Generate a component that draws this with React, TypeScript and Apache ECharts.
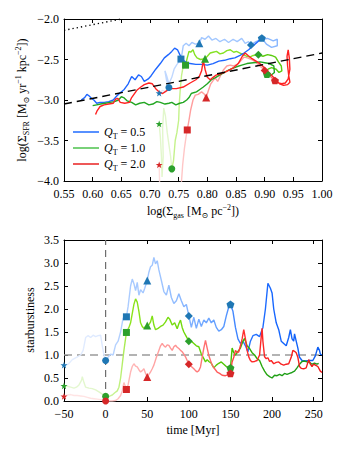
import React, { useEffect, useRef } from 'react';
import * as echarts from 'echarts';

// ---------- Top panel: paths in (log Σgas, log ΣSFR) ----------
const blueTopPale = [[0.716,-2.915],[0.722,-2.88],[0.728,-2.9],[0.733,-2.845]];
const blueTopEarly = [[0.733,-2.845],[0.729,-2.76],[0.726,-2.64],[0.729,-2.7],[0.733,-2.8],[0.738,-2.72],[0.742,-2.62],[0.747,-2.56],[0.754,-2.495]];
const blueTopMid = [[0.754,-2.495],[0.756,-2.42],[0.758,-2.33],[0.763,-2.3],[0.768,-2.33],[0.773,-2.29],[0.779,-2.31],[0.786,-2.3],[0.79,-2.23],[0.796,-2.25],[0.802,-2.21],[0.808,-2.26],[0.815,-2.24],[0.822,-2.28],[0.83,-2.25],[0.837,-2.29],[0.845,-2.25],[0.852,-2.28],[0.86,-2.24],[0.866,-2.3],[0.872,-2.28],[0.876,-2.32]];
const blueTopLateMid = [[0.876,-2.32],[0.885,-2.28],[0.895,-2.25],[0.905,-2.24],[0.915,-2.27],[0.922,-2.25],[0.922,-2.33],[0.912,-2.35],[0.903,-2.31],[0.895,-2.235]];
const blueTopLate = [[0.895,-2.235],[0.888,-2.28],[0.88,-2.33],[0.872,-2.38],[0.864,-2.42],[0.857,-2.45],[0.848,-2.48],[0.84,-2.49],[0.83,-2.51],[0.82,-2.52],[0.81,-2.55],[0.8,-2.57],[0.79,-2.56],[0.78,-2.56],[0.77,-2.55],[0.762,-2.53],[0.756,-2.5],[0.752,-2.44],[0.748,-2.38],[0.743,-2.36],[0.738,-2.4],[0.732,-2.44],[0.725,-2.48],[0.718,-2.55],[0.71,-2.62],[0.702,-2.7],[0.697,-2.74],[0.69,-2.77],[0.685,-2.71],[0.68,-2.69],[0.674,-2.75],[0.668,-2.71],[0.662,-2.8],[0.655,-2.87],[0.648,-2.91],[0.642,-2.95],[0.636,-3.0],[0.628,-3.02],[0.62,-3.03],[0.613,-3.03],[0.607,-3.04],[0.602,-3.0],[0.598,-2.98],[0.594,-2.95],[0.59,-2.93],[0.586,-2.97],[0.58,-3.0]];

const greenTopPale = [[0.716,-3.295],[0.718,-3.45],[0.72,-3.7],[0.721,-3.95],[0.723,-3.7],[0.722,-3.35],[0.724,-3.1],[0.727,-3.2],[0.73,-3.4],[0.733,-3.55],[0.736,-3.7],[0.738,-3.85]];
const greenTopEarly = [[0.738,-3.85],[0.741,-3.75],[0.744,-3.5],[0.747,-3.4],[0.75,-3.25],[0.751,-3.05],[0.753,-2.85],[0.755,-2.7],[0.757,-2.62],[0.762,-2.57]];
const greenTopMid = [[0.762,-2.57],[0.765,-2.48],[0.768,-2.4],[0.771,-2.41],[0.775,-2.38],[0.778,-2.44],[0.782,-2.48],[0.788,-2.5],[0.796,-2.49],[0.8,-2.46],[0.805,-2.42],[0.81,-2.41],[0.816,-2.4],[0.822,-2.43],[0.828,-2.42],[0.834,-2.39],[0.84,-2.38],[0.846,-2.41],[0.851,-2.4],[0.857,-2.42],[0.863,-2.44],[0.869,-2.46],[0.874,-2.47],[0.88,-2.45],[0.889,-2.44]];
const greenTopLateMid = [[0.889,-2.44],[0.897,-2.46],[0.905,-2.44],[0.912,-2.45],[0.919,-2.47],[0.924,-2.53],[0.929,-2.58],[0.93,-2.64],[0.925,-2.66],[0.92,-2.62],[0.912,-2.6],[0.906,-2.62],[0.9,-2.65],[0.904,-2.68]];
const greenTopLate = [[0.904,-2.68],[0.91,-2.7],[0.917,-2.66],[0.916,-2.58],[0.908,-2.55],[0.9,-2.54],[0.892,-2.53],[0.88,-2.54],[0.869,-2.55],[0.86,-2.57],[0.851,-2.59],[0.844,-2.61],[0.837,-2.63],[0.83,-2.66],[0.822,-2.69],[0.815,-2.72],[0.807,-2.75],[0.8,-2.8],[0.793,-2.84],[0.787,-2.87],[0.781,-2.9],[0.776,-2.91],[0.772,-2.92],[0.768,-2.97],[0.764,-3.0],[0.758,-3.03],[0.752,-3.04],[0.745,-3.06],[0.738,-3.03],[0.733,-3.04],[0.726,-3.05],[0.718,-3.03],[0.712,-3.02],[0.705,-3.05],[0.698,-3.06],[0.69,-3.03],[0.682,-3.04],[0.675,-3.06],[0.668,-3.03],[0.66,-3.01],[0.654,-2.97],[0.65,-2.96],[0.645,-3.0],[0.638,-3.02],[0.63,-3.03],[0.622,-3.04],[0.614,-3.05],[0.607,-3.06],[0.6,-3.07]];

const redTopPale = [[0.716,-3.8],[0.717,-4.1],[0.719,-4.5],[0.725,-4.8],[0.745,-4.9]];
const redTopEarly = [[0.745,-4.9],[0.75,-4.6],[0.753,-4.25],[0.755,-4.0],[0.757,-3.8],[0.76,-3.6],[0.763,-3.45],[0.765,-3.37]];
const redTopMid = [[0.765,-3.37],[0.768,-3.25],[0.771,-3.12],[0.775,-3.0],[0.779,-2.94],[0.784,-2.93],[0.79,-2.9],[0.795,-2.93],[0.798,-2.97],[0.802,-2.88],[0.806,-2.8],[0.81,-2.76],[0.814,-2.73],[0.818,-2.77],[0.823,-2.7],[0.828,-2.63],[0.834,-2.58],[0.84,-2.57],[0.846,-2.58],[0.852,-2.56],[0.858,-2.52],[0.864,-2.47],[0.87,-2.48],[0.877,-2.5],[0.884,-2.53],[0.89,-2.57],[0.895,-2.6],[0.9,-2.635]];
const redTopLateMid = [[0.9,-2.635],[0.904,-2.67],[0.909,-2.7],[0.913,-2.73],[0.918,-2.76]];
const redTopLate = [[0.918,-2.76],[0.924,-2.79],[0.93,-2.8],[0.936,-2.79],[0.941,-2.74],[0.944,-2.62],[0.943,-2.48],[0.941,-2.38],[0.939,-2.46],[0.94,-2.58],[0.942,-2.7],[0.944,-2.78],[0.94,-2.81],[0.933,-2.82],[0.926,-2.8],[0.918,-2.74],[0.91,-2.68],[0.902,-2.62],[0.895,-2.57],[0.887,-2.53],[0.878,-2.49],[0.871,-2.45],[0.866,-2.42],[0.861,-2.46],[0.854,-2.55],[0.846,-2.6],[0.838,-2.63],[0.83,-2.66],[0.822,-2.68],[0.816,-2.69],[0.81,-2.72],[0.805,-2.75],[0.8,-2.72],[0.796,-2.62],[0.793,-2.51],[0.79,-2.64],[0.786,-2.71],[0.78,-2.75],[0.77,-2.79],[0.758,-2.84],[0.746,-2.86],[0.735,-2.86],[0.728,-2.89],[0.722,-2.92],[0.716,-2.9],[0.71,-2.86],[0.704,-2.8],[0.698,-2.79],[0.69,-2.81],[0.684,-2.84],[0.677,-2.88],[0.672,-2.93],[0.668,-2.97],[0.664,-3.03],[0.656,-3.04],[0.648,-3.03],[0.644,-2.98],[0.64,-2.99],[0.636,-3.04],[0.628,-3.05],[0.62,-3.06],[0.613,-3.08],[0.608,-3.13],[0.605,-3.18]];

// markers: star(-50), circle(0), square(25), triangle(50), diamond(100), pentagon(150) Myr
const blueTopMarkers = [[0.716,-2.915],[0.733,-2.845],[0.754,-2.495],[0.786,-2.3],[0.876,-2.32],[0.895,-2.235]];
const greenTopMarkers = [[0.716,-3.295],[0.738,-3.85],[0.762,-2.57],[0.796,-2.49],[0.889,-2.44],[0.904,-2.68]];
const redTopMarkers = [[0.716,-3.8],[0.745,-4.9],[0.765,-3.37],[0.798,-2.97],[0.9,-2.635],[0.918,-2.76]];

const ksDashed = [[0.55,-3.05],[1.0,-2.42]];
const ksDotted = [[0.55,-2.14],[0.65,-2.0]];

// ---------- Bottom panel: starburstiness vs time ----------
const blueSB = [[-50,0.78],[-45,0.8],[-40,0.9],[-35,0.95],[-30,1.0],[-27,1.1],[-24,1.38],[-21,1.42],[-18,1.38],[-15,1.43],[-12,1.4],[-9,1.42],[-6,1.43],[-4,1.2],[-2,1.0],[0,0.88],[3,0.95],[6,1.02],[9,1.0],[12,1.22],[15,1.3],[18,1.5],[21,1.8],[25,1.83],[27,2.05],[30,2.5],[32,2.65],[34,2.55],[36,2.4],[38,2.58],[40,2.3],[42,2.42],[45,2.35],[47,2.45],[50,2.62],[52,2.8],[54,2.92],[56,2.95],[58,3.12],[60,2.98],[62,3.05],[64,2.85],[67,2.62],[70,2.38],[73,2.3],[76,2.52],[79,2.25],[82,2.12],[85,2.18],[88,2.33],[91,2.18],[94,2.05],[97,2.1],[100,1.85],[103,1.6],[106,1.82],[109,1.58],[112,1.78],[115,1.62],[118,1.76],[121,1.7],[124,1.8],[127,1.7],[130,1.76],[133,1.6],[136,1.52],[139,1.55],[142,1.62],[145,1.85],[148,2.05],[150,2.1],[153,1.95],[156,1.6],[159,1.35],[162,1.25],[165,1.3],[168,1.2],[171,1.07],[174,1.3],[177,1.42],[181,1.45],[185,1.4],[189,1.6],[192,2.0],[195,2.56],[198,2.45],[200,2.35],[202,2.0],[205,1.7],[208,1.55],[211,1.3],[214,1.25],[217,1.2],[220,1.38],[222,1.55],[224,1.35],[226,1.3],[227,1.46],[229,1.3],[231,1.15],[233,0.95],[236,0.88],[240,0.87],[245,0.88],[249,0.88],[252,0.98],[255,1.17],[257,1.1],[258,1.02],[260,1.0]];
const greenSB = [[-50,0.33],[-46,0.32],[-42,0.3],[-38,0.28],[-35,0.3],[-32,0.35],[-29,0.45],[-28,0.53],[-26,0.4],[-24,0.3],[-20,0.28],[-16,0.27],[-12,0.24],[-8,0.2],[-4,0.15],[0,0.1],[4,0.1],[8,0.13],[11,0.18],[14,0.22],[16,0.3],[18,0.5],[20,0.8],[22,1.1],[25,1.49],[28,1.6],[30,1.7],[32,1.9],[34,2.1],[36,2.22],[38,2.15],[40,1.95],[42,1.7],[44,1.62],[46,1.58],[48,1.62],[50,1.64],[52,1.66],[54,1.72],[56,1.85],[58,1.65],[60,1.55],[63,1.58],[66,1.62],[69,1.65],[72,1.72],[75,1.82],[77,1.78],[80,1.65],[83,1.7],[86,1.57],[88,1.68],[90,1.76],[92,1.6],[94,1.5],[97,1.4],[100,1.3],[103,1.3],[106,1.25],[109,1.2],[112,1.18],[115,1.02],[118,0.92],[120,0.85],[122,0.9],[124,0.86],[127,0.82],[130,0.72],[133,0.78],[136,0.82],[139,0.85],[142,0.8],[145,0.75],[148,0.72],[150,0.72],[152,1.15],[154,1.05],[156,1.0],[159,1.08],[162,1.15],[165,1.3],[167,1.36],[170,1.2],[173,1.14],[176,1.05],[179,1.0],[182,0.92],[185,0.88],[188,0.75],[191,0.65],[194,0.57],[197,0.53],[200,0.5],[203,0.56],[206,0.55],[209,0.58],[212,0.55],[215,0.6],[218,0.58],[221,0.6],[224,0.62],[227,0.65],[230,0.72],[233,0.8],[236,0.86],[239,0.87],[242,0.85],[245,0.84],[248,0.8],[251,0.82],[254,0.8],[256,0.82]];
const redSB = [[-50,0.1],[-46,0.13],[-42,0.14],[-38,0.12],[-34,0.12],[-30,0.11],[-26,0.1],[-22,0.08],[-18,0.06],[-14,0.05],[-10,0.04],[-6,0.03],[-3,0.02],[0,0.0],[4,0.0],[8,0.0],[12,0.01],[15,0.05],[18,0.12],[20,0.22],[22,0.4],[24,0.3],[25,0.25],[27,0.35],[30,0.63],[32,0.75],[34,0.81],[36,0.76],[38,0.74],[40,0.68],[42,0.63],[44,0.66],[46,0.7],[48,0.6],[50,0.52],[52,0.58],[54,0.63],[56,0.7],[58,0.78],[61,0.95],[64,1.1],[66,1.2],[68,1.25],[70,1.2],[72,1.17],[74,1.22],[76,1.21],[78,1.15],[80,1.1],[82,1.18],[84,1.21],[86,1.17],[88,1.14],[90,1.1],[92,1.07],[94,1.02],[96,0.96],[98,0.88],[100,0.8],[103,0.75],[106,0.7],[108,0.66],[110,0.63],[112,0.66],[114,0.74],[116,0.95],[118,1.15],[120,1.32],[122,1.15],[124,0.99],[126,0.88],[128,0.78],[131,0.7],[134,0.63],[137,0.6],[140,0.56],[144,0.55],[148,0.58],[150,0.6],[152,0.85],[154,0.95],[156,1.1],[158,1.05],[160,1.07],[162,1.2],[164,1.35],[166,1.55],[168,1.35],[170,1.1],[172,0.96],[174,0.88],[176,0.85],[179,0.86],[182,0.88],[185,1.0],[187,1.4],[188,1.58],[189,1.3],[191,0.96],[193,0.92],[195,0.94],[197,0.86],[199,0.88],[202,0.81],[205,0.84],[208,0.85],[211,0.8],[214,0.78],[217,0.8],[220,0.81],[223,0.95],[225,1.1],[227,1.08],[229,1.05],[231,0.95],[233,0.75],[235,0.71],[238,0.7],[241,0.72],[244,0.9],[246,0.8],[248,0.75],[250,0.8],[252,0.78],[255,0.75],[258,0.65],[260,0.62]];

const markerTimes = [-50, 0, 25, 50, 100, 150];
const sbRef = [[-50, 1], [260, 1]];
const tZero = [[0, 0], [0, 3.5]];

const labelsQ = ['0.5', '1.0', '2.0'];

// ---------- styling ----------
const F = "'Liberation Serif', 'DejaVu Serif', serif";
const markerColors = ['#1f77b4', '#2ca02c', '#d62728'];
const legendColors = ['#1f6bff', '#4cc24c', '#e82020'];
const topSegColors = [
  ['#dde9ff', '#c0d8ff', '#a2c7ff', '#8ab8ff', '#1f66ff'],
  ['#e2f7cc', '#c4f28a', '#86e224', '#5ccc10', '#22a622'],
  ['#ffdede', '#ffc6c6', '#ff9e9e', '#ff6a6a', '#ff2222'],
];
const gradStops = [
  [[-50, '#e4eeff'], [-1, '#dce8ff'], [0, '#bcd6ff'], [30, '#aacbff'], [70, '#9cc3ff'], [110, '#78acff'], [140, '#5e9cff'], [165, '#2f79ff'], [200, '#1666ff'], [260, '#0c5ef2']],
  [[-50, '#e6f8d4'], [-1, '#e0f6c8'], [0, '#d2f5b0'], [18, '#bdf078'], [30, '#8ce41c'], [100, '#6ed80a'], [150, '#48c204'], [178, '#2eae06'], [200, '#1f9f14'], [256, '#1b9b1b']],
  [[-50, '#ffe6e6'], [-1, '#ffe0e0'], [0, '#ffcaca'], [50, '#ffaaaa'], [100, '#ff8585'], [130, '#ff6464'], [150, '#ff4a4a'], [170, '#ff2a2a'], [260, '#f01818']],
];

const starPath = 'path://M0,-10 L2.35,-3.24 L9.51,-3.09 L3.8,1.24 L5.88,8.09 L0,4 L-5.88,8.09 L-3.8,1.24 L-9.51,-3.09 L-2.35,-3.24 Z';
const pentPath = 'path://M0,-10 L9.51,-3.09 L5.88,8.09 L-5.88,8.09 L-9.51,-3.09 Z';
const symbols = [starPath, 'circle', 'rect', 'triangle', 'diamond', pentPath];
const symbolSizes = [7, 7, 7, 8, 8, 8];

function lineSeries(data: number[][], color: any, xi: number, yi: number, width = 1.4, z = 2, type: any = 'solid') {
  return {
    type: 'line', data, xAxisIndex: xi, yAxisIndex: yi, showSymbol: false, symbol: 'none',
    silent: true, z, clip: true, animation: false,
    lineStyle: { color, width, type, cap: 'butt' },
  };
}

function markerSeries(points: number[][], color: string, xi: number, yi: number, clip: boolean) {
  return {
    type: 'scatter', xAxisIndex: xi, yAxisIndex: yi, silent: true, z: 5, clip, animation: false,
    symbolKeepAspect: true,
    itemStyle: { color, opacity: 1 },
    data: points.map((p, i) => ({ value: p, symbol: symbols[i], symbolSize: symbolSizes[i] })),
  };
}

function gradient(stops: any[], data: number[][]) {
  const t0 = data[0][0];
  const t1 = data[data.length - 1][0];
  return new echarts.graphic.LinearGradient(0, 0, 1, 0,
    stops.map(([t, c]) => ({ offset: Math.max(0, Math.min(1, (t - t0) / (t1 - t0))), color: c })));
}

const minus = (s: string) => s.replace('-', '\u2212');

function axisCommon(extra: any) {
  return {
    type: 'value',
    axisLine: { show: true, onZero: false, lineStyle: { color: '#000', width: 1 } },
    axisTick: { show: true, inside: true, length: 4, lineStyle: { color: '#000', width: 1 } },
    splitLine: { show: false },
    axisLabel: { show: false },
    ...extra,
  };
}

const tickFont = { fontFamily: F, fontSize: 12, color: '#000' };

const richMath = {
  m: { fontFamily: F, fontSize: 12, color: '#000', lineHeight: 16 },
  sub: { fontFamily: F, fontSize: 8, color: '#000', lineHeight: 8, verticalAlign: 'bottom' },
  sup: { fontFamily: F, fontSize: 8, color: '#000', lineHeight: 8, verticalAlign: 'top' },
  qi: { fontFamily: F, fontSize: 12, fontStyle: 'italic', color: '#000', lineHeight: 16 },
};

export default function App() {
  const ref = useRef<HTMLDivElement>(null);
  useEffect(() => {
    const chart = echarts.init(ref.current!, null, { renderer: 'svg' });

    const topSets = [
      [blueTopPale, blueTopEarly, blueTopMid, blueTopLateMid, blueTopLate],
      [greenTopPale, greenTopEarly, greenTopMid, greenTopLateMid, greenTopLate],
      [redTopPale, redTopEarly, redTopMid, redTopLateMid, redTopLate],
    ];
    const topMarkers = [blueTopMarkers, greenTopMarkers, redTopMarkers];
    const sbSets = [blueSB, greenSB, redSB];

    const series: any[] = [];
    // top panel lines: draw segments phase by phase (later phases on top)
    for (let seg = 0; seg < 5; seg++) {
      for (let q = 0; q < 3; q++) {
        series.push(lineSeries(topSets[q][seg], topSegColors[q][seg], 0, 0, 1.4, 2 + seg * 0.1));
      }
    }
    series.push(lineSeries(ksDashed, '#000', 0, 0, 1.4, 4, [8, 5]));
    series.push(lineSeries(ksDotted, '#000', 0, 0, 1.3, 4, [1.3, 3]));
    for (let q = 0; q < 3; q++) {
      series.push(markerSeries(topMarkers[q], markerColors[q], 0, 0, true));
    }

    // bottom panel
    series.push(lineSeries(sbRef, '#9a9a9a', 1, 1, 1.5, 1, [8, 5]));
    series.push(lineSeries(tZero, '#6e6e6e', 1, 1, 1.2, 1, [7, 5]));
    for (let q = 0; q < 3; q++) {
      series.push(lineSeries(sbSets[q], gradient(gradStops[q], sbSets[q]), 1, 1, 1.4, 2));
    }
    for (let q = 0; q < 3; q++) {
      const pts = markerTimes.map((t) => sbSets[q].find((p) => p[0] === t)!) as number[][];
      series.push(markerSeries(pts, markerColors[q], 1, 1, false));
    }

    const legendY = [132, 148, 164];
    const graphic: any[] = [];
    labelsQ.forEach((lab, i) => {
      graphic.push({ type: 'line', silent: true, shape: { x1: 73, y1: legendY[i], x2: 99, y2: legendY[i] }, style: { stroke: legendColors[i], lineWidth: 1.5 } });
      graphic.push({
        type: 'text', silent: true, x: 104, y: legendY[i],
        style: { text: `{qi|Q}{sub|T}{m| = ${lab}}`, rich: richMath, align: 'left', verticalAlign: 'middle', fontFamily: F, fontSize: 12 },
      });
    });
    graphic.push({
      type: 'text', silent: true, x: 22, y: 100, rotation: Math.PI / 2,
      style: { text: '{m|log(Σ}{sub|SFR}{m| [M}{sub|⊙}{m| yr}{sup|−1}{m| kpc}{sup|−2}{m|])}', rich: richMath, align: 'center', verticalAlign: 'middle', fontFamily: F, fontSize: 12 },
    });
    graphic.push({
      type: 'text', silent: true, x: 193, y: 211,
      style: { text: '{m|log(Σ}{sub|gas}{m| [M}{sub|⊙}{m| pc}{sup|−2}{m|])}', rich: richMath, align: 'center', verticalAlign: 'middle', fontFamily: F, fontSize: 12 },
    });
    graphic.push({
      type: 'text', silent: true, x: 30, y: 320, rotation: Math.PI / 2,
      style: { text: 'starburstiness', align: 'center', verticalAlign: 'middle', fontFamily: F, fontSize: 12, fill: '#000' },
    });
    graphic.push({
      type: 'text', silent: true, x: 193, y: 430,
      style: { text: 'time [Myr]', align: 'center', verticalAlign: 'middle', fontFamily: F, fontSize: 12, fill: '#000' },
    });

    chart.setOption({
      animation: false,
      backgroundColor: '#fff',
      grid: [
        { left: 64, top: 19, width: 258, height: 162, containLabel: false },
        { left: 64, top: 240, width: 258, height: 161, containLabel: false },
      ],
      xAxis: [
        axisCommon({ gridIndex: 0, position: 'bottom', min: 0.55, max: 1.0, interval: 0.05,
          axisLabel: { show: true, margin: 7, ...tickFont, formatter: (v: number) => v.toFixed(2) } }),
        axisCommon({ gridIndex: 1, position: 'bottom', min: -50, max: 260, interval: 50,
          axisLabel: { show: true, margin: 7, showMaxLabel: false, ...tickFont, formatter: (v: number) => minus(String(Math.round(v))) } }),
        axisCommon({ gridIndex: 0, position: 'top', min: 0.55, max: 1.0, interval: 0.05 }),
        axisCommon({ gridIndex: 1, position: 'top', min: -50, max: 260, interval: 50 }),
      ],
      yAxis: [
        axisCommon({ gridIndex: 0, position: 'left', min: -4, max: -2, interval: 0.5,
          axisLabel: { show: true, margin: 5, ...tickFont, formatter: (v: number) => minus(v.toFixed(1)) } }),
        axisCommon({ gridIndex: 1, position: 'left', min: 0, max: 3.5, interval: 0.5,
          axisLabel: { show: true, margin: 5, ...tickFont, formatter: (v: number) => v.toFixed(1) } }),
        axisCommon({ gridIndex: 0, position: 'right', min: -4, max: -2, interval: 0.5 }),
        axisCommon({ gridIndex: 1, position: 'right', min: 0, max: 3.5, interval: 0.5 }),
      ],
      series,
      graphic,
    });
    return () => chart.dispose();
  }, []);
  return <div ref={ref} style={{ position: 'absolute', left: 0, top: 0, width: 346, height: 450, background: '#fff' }} />;
}
